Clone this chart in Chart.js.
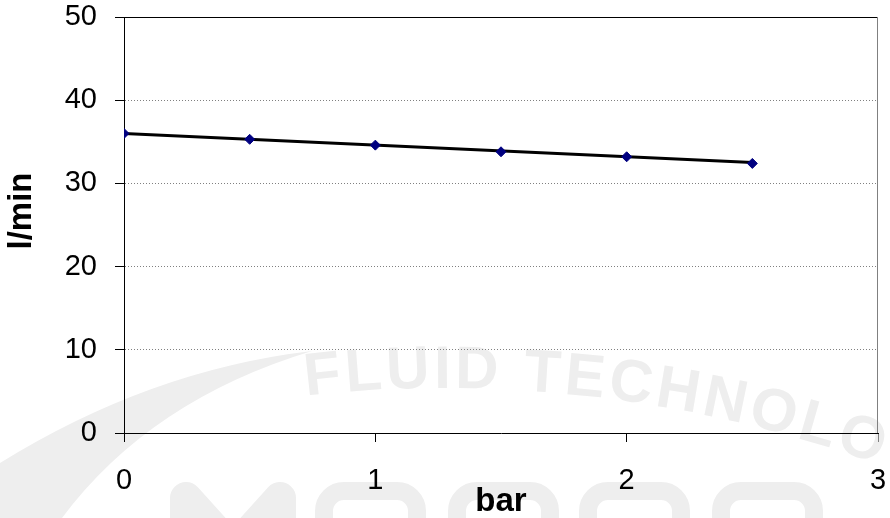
<!DOCTYPE html>
<html>
<head>
<meta charset="utf-8">
<script src="https://cdn.jsdelivr.net/npm/chart.js@4.4.0/dist/chart.umd.min.js"></script>
<style>
  html, body { margin: 0; padding: 0; background: #ffffff; }
  #wrap { width: 890px; height: 518px; }
</style>
</head>
<body>
<div id="wrap"><canvas id="c" width="890" height="518"></canvas></div>
<script>
// Data
const pressureBar = [0, 0.5, 1, 1.5, 2, 2.5];
const flowLpm = [36.0, 35.3, 34.6, 33.8, 33.2, 32.4];
// Trend line end points
const trendX = [0, 2.5];
const trendY = [36.0, 32.5];
const xTitle = 'bar';
const yTitle = 'l/min';
const watermarkText = 'FLUID TECHNOLOGY';

const FONT = '"Liberation Sans", Arial, sans-serif';
const WM = '#eeeeee';

// faint background logo (watermark), drawn beneath the chart
const watermarkPlugin = {
  id: 'watermark',
  beforeDraw(chart) {
    const ctx = chart.ctx;
    ctx.save();
    ctx.fillStyle = WM;
    ctx.strokeStyle = WM;
    // swoosh
    ctx.beginPath();
    ctx.moveTo(0, 463);
    ctx.quadraticCurveTo(150, 370, 312, 351);
    ctx.quadraticCurveTo(150, 400, 62, 518);
    ctx.lineTo(0, 518);
    ctx.closePath();
    ctx.fill();
    // arced text
    const cx = 444, cy = 1659, R = 1271;
    ctx.font = 'bold 60px ' + FONT;
    ctx.textBaseline = 'alphabetic';
    ctx.textAlign = 'left';
    let theta = Math.asin((306 - cx) / R);
    for (const ch of watermarkText) {
      const w = ctx.measureText(ch).width;
      const px = cx + R * Math.sin(theta);
      const py = cy - R * Math.cos(theta);
      ctx.save();
      ctx.translate(px, py);
      ctx.rotate(theta);
      ctx.fillText(ch, 0, 0);
      ctx.restore();
      theta += (w + 4) / R;
    }
    // large letters at the bottom
    ctx.lineWidth = 32;
    ctx.lineJoin = 'round';
    ctx.lineCap = 'butt';
    ctx.beginPath();
    ctx.moveTo(186, 570);
    ctx.lineTo(186, 498);
    ctx.lineTo(233, 550);
    ctx.lineTo(280, 498);
    ctx.lineTo(280, 570);
    ctx.stroke();
    ctx.lineWidth = 18;
    for (const x of [315, 448, 579, 712]) {
      ctx.beginPath();
      ctx.roundRect(x + 9, 491, 93, 100, 20);
      ctx.stroke();
    }
    ctx.restore();
  }
};

const framePlugin = {
  id: 'frame',
  afterDraw(chart) {
    const { ctx, chartArea: a } = chart;
    ctx.save();
    ctx.strokeStyle = '#000000';
    ctx.lineWidth = 1;
    ctx.beginPath();
    ctx.moveTo(a.left, a.top + 0.5);
    ctx.lineTo(a.right, a.top + 0.5);
    ctx.stroke();
    ctx.strokeStyle = '#808080';
    ctx.beginPath();
    ctx.moveTo(a.right - 0.5, a.top);
    ctx.lineTo(a.right - 0.5, a.bottom);
    ctx.stroke();
    ctx.fillStyle = '#000000';
    ctx.font = 'bold 33px ' + FONT;
    ctx.textAlign = 'center';
    ctx.textBaseline = 'middle';
    ctx.translate(22, 211);
    ctx.rotate(-Math.PI / 2);
    ctx.fillText(yTitle, 0, 0);
    ctx.restore();
  }
};

new Chart(document.getElementById('c'), {
  type: 'scatter',
  data: {
    datasets: [
      {
        label: 'points',
        data: pressureBar.map((x, i) => ({ x, y: flowLpm[i] })),
        pointStyle: 'rectRot',
        pointRadius: 5,
        backgroundColor: '#000080',
        borderColor: '#000080',
        borderWidth: 1,
        order: 0
      },
      {
        label: 'trend',
        data: trendX.map((x, i) => ({ x, y: trendY[i] })),
        showLine: true,
        borderColor: '#000000',
        borderWidth: 3,
        pointRadius: 0,
        order: 1
      }
    ]
  },
  options: {
    responsive: false,
    animation: false,
    layout: { padding: { top: 17, right: 12, left: 0, bottom: 0 } },
    plugins: { legend: { display: false }, tooltip: { enabled: false } },
    scales: {
      x: {
        type: 'linear',
        min: 0, max: 3,
        afterFit(s) { s.height = 85; s.paddingLeft = 0; s.paddingRight = 0; },
        ticks: { stepSize: 1, color: '#000', font: { family: FONT, size: 29 }, padding: 22, maxRotation: 0 },
        grid: {
          drawOnChartArea: false,
          drawTicks: true,
          tickLength: 9,
          tickColor: (c) => (c.tick && c.tick.value === 3 ? '#808080' : '#000000')
        },
        border: { color: '#000000', width: 1 },
        title: {
          display: true, text: xTitle, color: '#000',
          font: { family: FONT, size: 33, weight: 'bold', lineHeight: 1 },
          padding: { top: 0, bottom: 0 }
        }
      },
      y: {
        min: 0, max: 50,
        afterFit(s) { s.width = 124; s.paddingTop = 0; s.paddingBottom = 0; },
        ticks: { stepSize: 10, color: '#000', font: { family: FONT, size: 29 }, padding: 18 },
        grid: {
          color: (c) => (c.tick && (c.tick.value === 0 || c.tick.value === 50) ? 'rgba(0,0,0,0)' : '#808080'),
          lineWidth: 1,
          tickLength: 9,
          tickColor: '#000000'
        },
        border: { color: '#000000', width: 1, dash: [1, 2] }
      }
    }
  },
  plugins: [watermarkPlugin, framePlugin]
});
</script>
</body>
</html>
